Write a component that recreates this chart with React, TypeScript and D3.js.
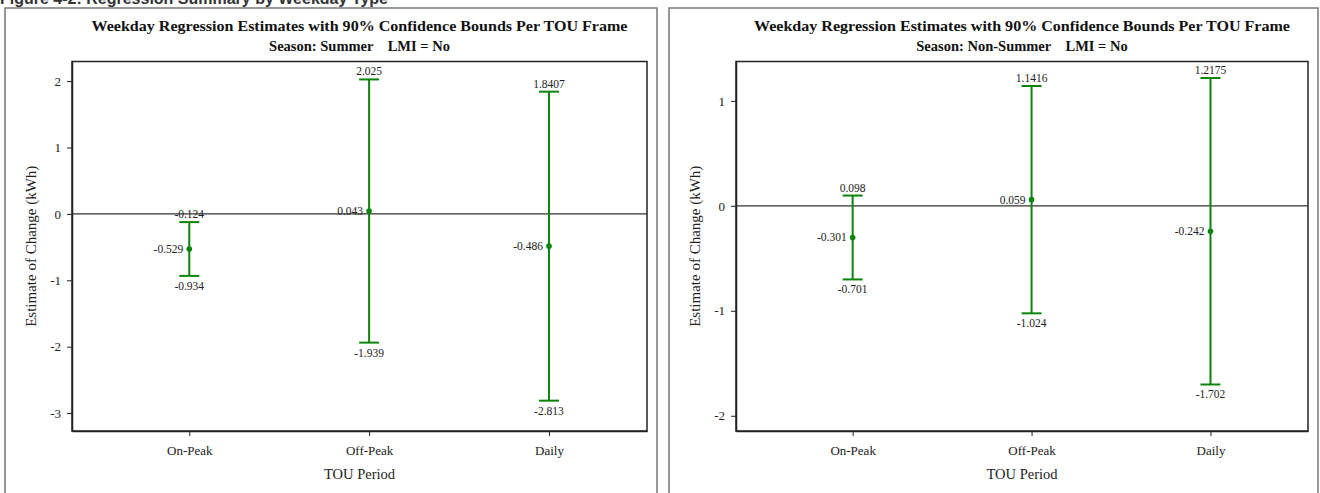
import { useEffect, useRef } from 'react';
import * as d3 from 'd3';

const categories = ['On-Peak', 'Off-Peak', 'Daily'];

const summerEst = [-0.529, 0.043, -0.486];
const summerLow = [-0.934, -1.939, -2.813];
const summerHigh = [-0.124, 2.025, 1.8407];
const summerLowLabel = ['-0.934', '-1.939', '-2.813'];
const summerHighLabel = ['-0.124', '2.025', '1.8407'];
const summerEstLabel = ['-0.529', '0.043', '-0.486'];
const summerTicks = [-3, -2, -1, 0, 1, 2];

const winterEst = [-0.301, 0.059, -0.242];
const winterLow = [-0.701, -1.024, -1.702];
const winterHigh = [0.098, 1.1416, 1.2175];
const winterLowLabel = ['-0.701', '-1.024', '-1.702'];
const winterHighLabel = ['0.098', '1.1416', '1.2175'];
const winterEstLabel = ['-0.301', '0.059', '-0.242'];
const winterTicks = [-2, -1, 0, 1];

const GREEN = '#0a840a';
const SERIF = '"Liberation Serif", "Times New Roman", serif';

type PanelProps = {
  ox: number;
  boxW: number;
  plotL: number;
  plotR: number;
  yDomain: [number, number];
  ticks: number[];
  est: number[];
  low: number[];
  high: number[];
  estLabel: string[];
  lowLabel: string[];
  highLabel: string[];
  season: string;
};

const Panel = (p: PanelProps) => {
  const gRef = useRef<SVGGElement>(null);
  const top = 61.5;
  const bottom = 431;

  useEffect(() => {
    const y = d3.scaleLinear().domain(p.yDomain).range([bottom, top]);
    const x = d3.scaleLinear().domain([-0.652, 2.545]).range([p.plotL, p.plotR]);
    const g = d3.select(gRef.current);
    g.selectAll('*').remove();

    // plot frame
    g.append('rect')
      .attr('x', p.plotL).attr('y', top)
      .attr('width', p.plotR - p.plotL).attr('height', bottom - top)
      .attr('fill', 'none').attr('stroke', '#222').attr('stroke-width', 1.5);

    // zero reference line
    g.append('line')
      .attr('x1', p.plotL).attr('x2', p.plotR)
      .attr('y1', y(0)).attr('y2', y(0))
      .attr('stroke', '#333').attr('stroke-width', 1.2);

    // y axis
    const yAxis = g.append('g')
      .attr('transform', `translate(${p.plotL},0)`)
      .attr('font-family', SERIF)
      .call(d3.axisLeft(y).tickValues(p.ticks).tickSize(5).tickSizeOuter(0).tickPadding(6)
        .tickFormat((d) => String(d)));
    yAxis.select('.domain').attr('stroke', '#222').attr('stroke-width', 1.5);
    yAxis.selectAll('.tick line').attr('stroke', '#222');
    yAxis.selectAll('.tick text')
      .attr('font-family', SERIF).attr('font-size', 13).attr('fill', '#222');

    // x axis
    const xAxis = g.append('g')
      .attr('transform', `translate(0,${bottom})`)
      .attr('font-family', SERIF)
      .call(d3.axisBottom(x).tickValues(d3.range(categories.length))
        .tickSize(5).tickSizeOuter(0).tickPadding(10).tickFormat((d) => categories[d as number]));
    xAxis.select('.domain').attr('stroke', '#222').attr('stroke-width', 1.5);
    xAxis.selectAll('.tick line').attr('stroke', '#222');
    xAxis.selectAll('.tick text')
      .attr('font-family', SERIF).attr('font-size', 13).attr('fill', '#222');

    const bars = g.append('g').selectAll('g')
      .data(categories.map((c, i) => i))
      .join('g');

    bars.append('line')
      .attr('x1', (i) => x(i)).attr('x2', (i) => x(i))
      .attr('y1', (i) => y(p.low[i])).attr('y2', (i) => y(p.high[i]))
      .attr('stroke', GREEN).attr('stroke-width', 2);
    bars.append('line')
      .attr('x1', (i) => x(i) - 10).attr('x2', (i) => x(i) + 10)
      .attr('y1', (i) => y(p.low[i])).attr('y2', (i) => y(p.low[i]))
      .attr('stroke', GREEN).attr('stroke-width', 2);
    bars.append('line')
      .attr('x1', (i) => x(i) - 10).attr('x2', (i) => x(i) + 10)
      .attr('y1', (i) => y(p.high[i])).attr('y2', (i) => y(p.high[i]))
      .attr('stroke', GREEN).attr('stroke-width', 2);
    bars.append('circle')
      .attr('cx', (i) => x(i)).attr('cy', (i) => y(p.est[i]))
      .attr('r', 2.8).attr('fill', GREEN);

    const lab = (sel: any) => sel
      .attr('font-family', SERIF).attr('font-size', 11.5).attr('fill', '#222');
    bars.append('text').call(lab)
      .attr('x', (i) => x(i)).attr('y', (i) => y(p.high[i]) - 4)
      .attr('text-anchor', 'middle').text((i) => p.highLabel[i]);
    bars.append('text').call(lab)
      .attr('x', (i) => x(i)).attr('y', (i) => y(p.low[i]) + 14)
      .attr('text-anchor', 'middle').text((i) => p.lowLabel[i]);
    bars.append('text').call(lab)
      .attr('x', (i) => x(i) - 6).attr('y', (i) => y(p.est[i]) + 4)
      .attr('text-anchor', 'end').text((i) => p.estLabel[i]);

    // axis titles
    g.append('text')
      .attr('x', (p.plotL + p.plotR) / 2).attr('y', 479)
      .attr('text-anchor', 'middle')
      .attr('font-family', SERIF).attr('font-size', 14.5).attr('fill', '#222')
      .text('TOU Period');
    g.append('text')
      .attr('transform', `translate(${p.ox + 31},${(top + bottom) / 2}) rotate(-90)`)
      .attr('text-anchor', 'middle')
      .attr('font-family', SERIF).attr('font-size', 15).attr('fill', '#222')
      .text('Estimate of Change (kWh)');
  }, [p]);

  const cx = (p.plotL + p.plotR) / 2;
  return (
    <g>
      <rect x={p.ox} y={8} width={p.boxW} height={500} fill="white" stroke="#777" strokeWidth={1.5} />
      <text x={cx} y={31} textAnchor="middle" fontFamily={SERIF} fontWeight="bold" fontSize={15}
        textLength={536} lengthAdjust="spacingAndGlyphs" fill="#111">
        Weekday Regression Estimates with 90% Confidence Bounds Per TOU Frame
      </text>
      <text x={cx} y={51} textAnchor="middle" fontFamily={SERIF} fontWeight="bold" fontSize={14.5} fill="#111"
        style={{ whiteSpace: 'pre' }}>
        {`Season: ${p.season}    LMI = No`}
      </text>
      <g ref={gRef} />
    </g>
  );
};

export default function App() {
  return (
    <svg width={1320} height={493} style={{ position: 'absolute', left: 0, top: 0, background: 'white' }}>
      <text x={0} y={4} fontFamily="Arial, sans-serif" fontWeight="bold" fontSize={16} fill="#333">
        Figure 4-2: Regression Summary by Weekday Type
      </text>
      <Panel ox={5} boxW={652} plotL={72} plotR={647} yDomain={[-3.27, 2.295]} ticks={summerTicks}
        est={summerEst} low={summerLow} high={summerHigh}
        estLabel={summerEstLabel} lowLabel={summerLowLabel} highLabel={summerHighLabel} season="Summer" />
      <Panel ox={669} boxW={649} plotL={736} plotR={1308} yDomain={[-2.145, 1.375]} ticks={winterTicks}
        est={winterEst} low={winterLow} high={winterHigh}
        estLabel={winterEstLabel} lowLabel={winterLowLabel} highLabel={winterHighLabel} season="Non-Summer" />
    </svg>
  );
}
